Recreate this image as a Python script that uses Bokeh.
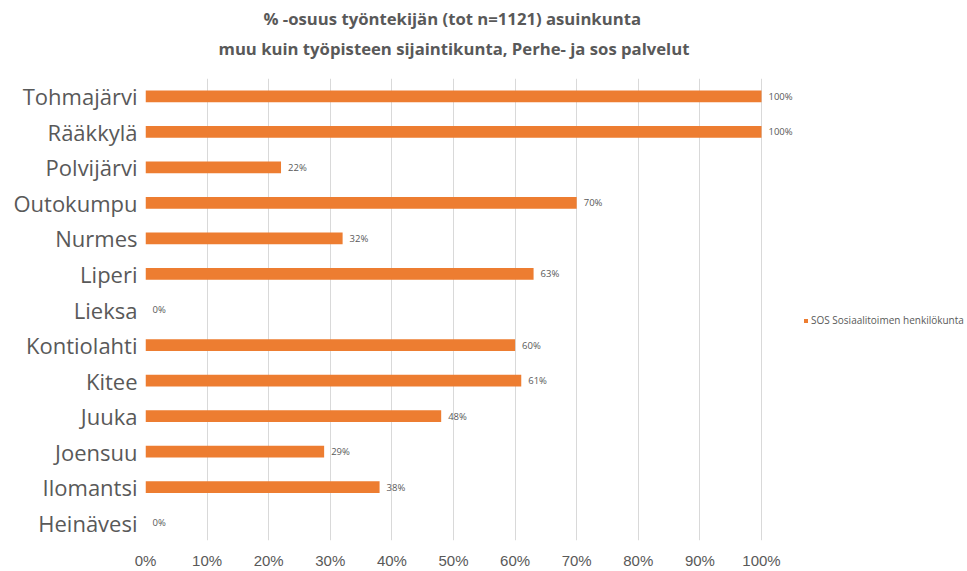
from bokeh.plotting import figure
from bokeh.models import (FactorRange, Range1d, ColumnDataSource, NumeralTickFormatter,
                          FixedTicker, Title, Legend, LegendItem)
from bokeh.embed import file_html
from bokeh.resources import INLINE
from bokeh.core.properties import value

categories = ["Tohmajärvi", "Rääkkylä", "Polvijärvi", "Outokumpu", "Nurmes", "Liperi",
              "Lieksa", "Kontiolahti", "Kitee", "Juuka", "Joensuu", "Ilomantsi", "Heinävesi"]
values = [1.00, 1.00, 0.22, 0.70, 0.32, 0.63, 0.00, 0.60, 0.61, 0.48, 0.29, 0.38, 0.00]
value_labels = ["100%", "100%", "22%", "70%", "32%", "63%", "0%", "60%", "61%", "48%", "29%", "38%", "0%"]
series_name = "SOS Sosiaalitoimen henkilökunta"
title_line1 = "% -osuus työntekijän (tot n=1121) asuinkunta"
title_line2 = "muu kuin työpisteen sijaintikunta, Perhe- ja sos palvelut"
x_ticks = [0, 0.1, 0.2, 0.3, 0.4, 0.5, 0.6, 0.7, 0.8, 0.9, 1.0]

FONT = "Open Sans"
TICK_FONT = "Liberation Sans"
GREY = "#595959"
ORANGE = "#ed7d31"

src = ColumnDataSource(dict(cat=categories, val=values, lab=value_labels))

# frame spans from 0% at x=145 to the right window edge; 100% sits at x=761
x_end = (967 - 145) / (761 - 145)

p = figure(width=967, height=571, output_backend="svg", toolbar_location=None,
           y_range=FactorRange(factors=list(reversed(categories))),
           x_range=Range1d(0, x_end),
           min_border_left=145, min_border_right=0, min_border_top=78, min_border_bottom=31)
p.outline_line_color = None

r = p.hbar(y="cat", right="val", left=0, height=0.33, source=src,
           fill_color=ORANGE, line_color=None)
p.text(x="val", y="cat", text="lab", source=src, x_offset=7, text_baseline="middle",
       text_align="left", text_font=value(FONT), text_font_size="9.5px", text_color=GREY)

p.xaxis.ticker = FixedTicker(ticks=x_ticks)
p.xaxis.formatter = NumeralTickFormatter(format="0%")
p.xaxis.axis_line_color = None
p.xaxis.major_tick_line_color = None
p.xaxis.minor_tick_line_color = None
p.xaxis.major_tick_out = 0
p.xaxis.major_tick_in = 0
p.xaxis.major_label_standoff = 11
p.xaxis.major_label_text_font = TICK_FONT
p.xaxis.major_label_text_font_size = "15px"
p.xaxis.major_label_text_color = GREY

p.yaxis.axis_line_color = None
p.yaxis.major_tick_line_color = None
p.yaxis.minor_tick_line_color = None
p.yaxis.major_tick_out = 0
p.yaxis.major_tick_in = 0
p.yaxis.major_label_standoff = 8
p.yaxis.major_label_text_font = FONT
p.yaxis.major_label_text_font_size = "22px"
p.yaxis.major_label_text_color = GREY

p.xgrid.grid_line_color = "#d9d9d9"
p.xgrid.grid_line_width = 1
p.ygrid.grid_line_color = None

legend = Legend(items=[LegendItem(label=series_name, renderers=[r])],
                location=(658, 213), orientation="vertical",
                glyph_width=5, glyph_height=5, label_standoff=3, label_height=10,
                padding=0, margin=0, spacing=0,
                border_line_color=None, background_fill_alpha=0,
                label_text_font=FONT, label_text_font_size="10px", label_text_color=GREY)
p.add_layout(legend, "center")

# titles stack outward from the frame: an empty spacer first, then line 2, then line 1
p.add_layout(Title(text=" ", text_font_size="2px", standoff=15), "above")
p.add_layout(Title(text=title_line2, align="left", offset=73, text_font=FONT,
                   text_font_size="16.7px", text_font_style="bold", text_color=GREY,
                   standoff=0, vertical_align="bottom"), "above")
p.add_layout(Title(text=title_line1, align="left", offset=118, text_font=FONT,
                   text_font_size="16.7px", text_font_style="bold", text_color=GREY,
                   standoff=6, vertical_align="top"), "above")

open("out.html", "w").write(file_html(p, INLINE))
